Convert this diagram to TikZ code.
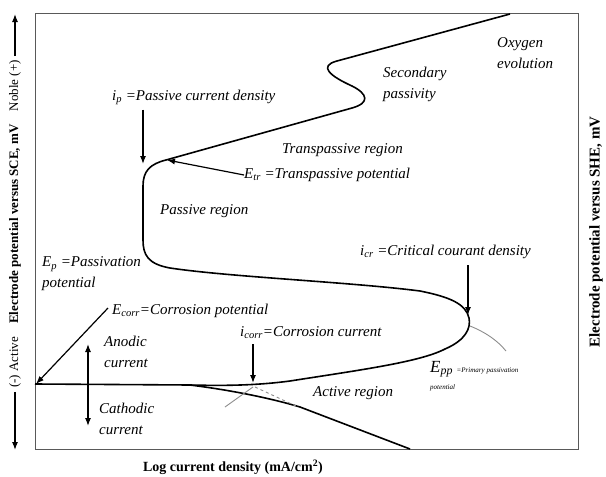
\documentclass[tikz,border=0pt]{standalone}
\usepackage{fontspec}
\setmainfont{Liberation Serif}
\usetikzlibrary{arrows.meta,positioning,calc}
\newcommand{\qsym}[2]{\textit{#1}\textsubscript{\textit{#2}}}
\tikzset{
  lbl/.style={font=\fontsize{15}{21}\selectfont\itshape, inner sep=0pt, anchor=west, align=left},
  axlbl/.style={font=\fontsize{15}{17}\selectfont\bfseries, inner sep=0pt},
  curve/.style={line width=1.6pt, line join=round},
  tafel/.style={line width=0.9pt, black!45},
  plotframe/.style={line width=1pt, black!65},
  edge/.style={-{Latex[length=8pt,width=6pt]}, line width=1.2pt},
  dedge/.style={{Latex[length=8pt,width=6pt]}-{Latex[length=8pt,width=6pt]}, line width=1.2pt}
}
\begin{document}
\begin{tikzpicture}[x=1pt, y=-1pt]
  \useasboundingbox (0,0) rectangle (606,477);
  \draw[plotframe] (35,13) rectangle (578,449);

  % polarization curve
  \draw[curve] (35,384) -- (190,385)
    .. controls (230,386) and (260,385) .. (290,381)
    .. controls (360,370) and (420,362) .. (445,349)
    .. controls (466,340) and (471,328) .. (469,318)
    .. controls (466,304) and (450,297) .. (420,291)
    .. controls (350,282) and (230,277) .. (170,268)
    .. controls (148,264) and (143,255) .. (143,240)
    -- (143,186)
    .. controls (143,171) and (150,164) .. (166,160)
    -- (352,108)
    .. controls (370,103) and (368,94) .. (352,86)
    .. controls (330,76) and (318,66) .. (337,61)
    -- (510,14);
  \draw[curve] (190,385) .. controls (230,390) and (270,398) .. (300,407) -- (410,449);
  \draw[tafel] (225,407) -- (253,387);
  \draw[tafel, dashed] (255,387) -- (298,407);
  \draw[tafel] (470,326) .. controls (485,332) and (497,340) .. (506,351);

  % labels
  \node[lbl] (oxy) at (497,53) {Oxygen\\evolution};
  \node[lbl] (secpass) at (383,84) {Secondary\\passivity};
  \node[lbl] (transreg) at (282,150) {Transpassive region};
  \node[lbl] (etr) at (244,175) {\qsym{E}{tr} =Transpassive potential};
  \node[lbl] (ip) at (112,97) {\qsym{i}{p} =Passive current density};
  \node[lbl] (passreg) at (160,211) {Passive region};
  \node[lbl] (ep) at (42,274) {\qsym{E}{p} =Passivation\\potential};
  \node[lbl] (ecorr) at (112,311) {\qsym{E}{corr}=Corrosion potential};
  \node[lbl] (anodic) at (104,352) {Anodic\\current};
  \node[lbl] (cathodic) at (99,419) {Cathodic\\current};
  \node[lbl] (icorr) at (240,333) {\qsym{i}{corr}=Corrosion current};
  \node[lbl] (icr) at (360,252) {\qsym{i}{cr} =Critical courant density};
  \node[lbl] (epp) at (430,376) {{\fontsize{17}{19}\selectfont\qsym{E}{pp}} {\fontsize{7}{8}\selectfont =Primary passivation}\\[-4pt]{\fontsize{7}{8}\selectfont potential}};
  \node[lbl] (activereg) at (313,393) {Active region};

  % arrows
  \coordinate (ipTip) at (143,164);
  \coordinate (etrTip) at (167,160);
  \coordinate (ecorrTip) at (36,384);
  \coordinate (icorrTip) at (253,383);
  \coordinate (icrTip) at (468,315);
  \coordinate (anTop) at (88,344);
  \coordinate (caBot) at (88,426);
  \draw[edge] (ipTip |- ip.south) ++(0,5) -- (ipTip);
  \draw[edge] (etr.west) -- (etrTip);
  \draw[edge] ([xshift=-4pt,yshift=3pt]ecorr.west) -- (ecorrTip);
  \draw[edge] (icorrTip |- icorr.south) ++(0,5) -- (icorrTip);
  \draw[edge] (icrTip |- icr.south) ++(0,6) -- (icrTip);
  \draw[dedge] (anTop) -- (caBot);

  % axis labels
  \node[axlbl, rotate=90, font=\fontsize{13}{15}\selectfont\bfseries] (ylbl) at (15,224)
    {{\mdseries (-) Active}\quad Electrode potential versus SCE, mV\quad{\mdseries Noble (+)}};
  \coordinate (yUp) at (15,14);
  \coordinate (yDown) at (15,450);
  \draw[edge] ([yshift=4pt]ylbl.east) -- (yUp);
  \draw[edge] ([yshift=-4pt]ylbl.west) -- (yDown);
  \node[axlbl, rotate=90] (ylbl2) at (596,232) {Electrode potential versus SHE, mV};
  \node[axlbl, font=\fontsize{14}{16}\selectfont\bfseries] (xlbl) at (233,467) {Log current density (mA/cm\textsuperscript{2})};
\end{tikzpicture}
\end{document}
